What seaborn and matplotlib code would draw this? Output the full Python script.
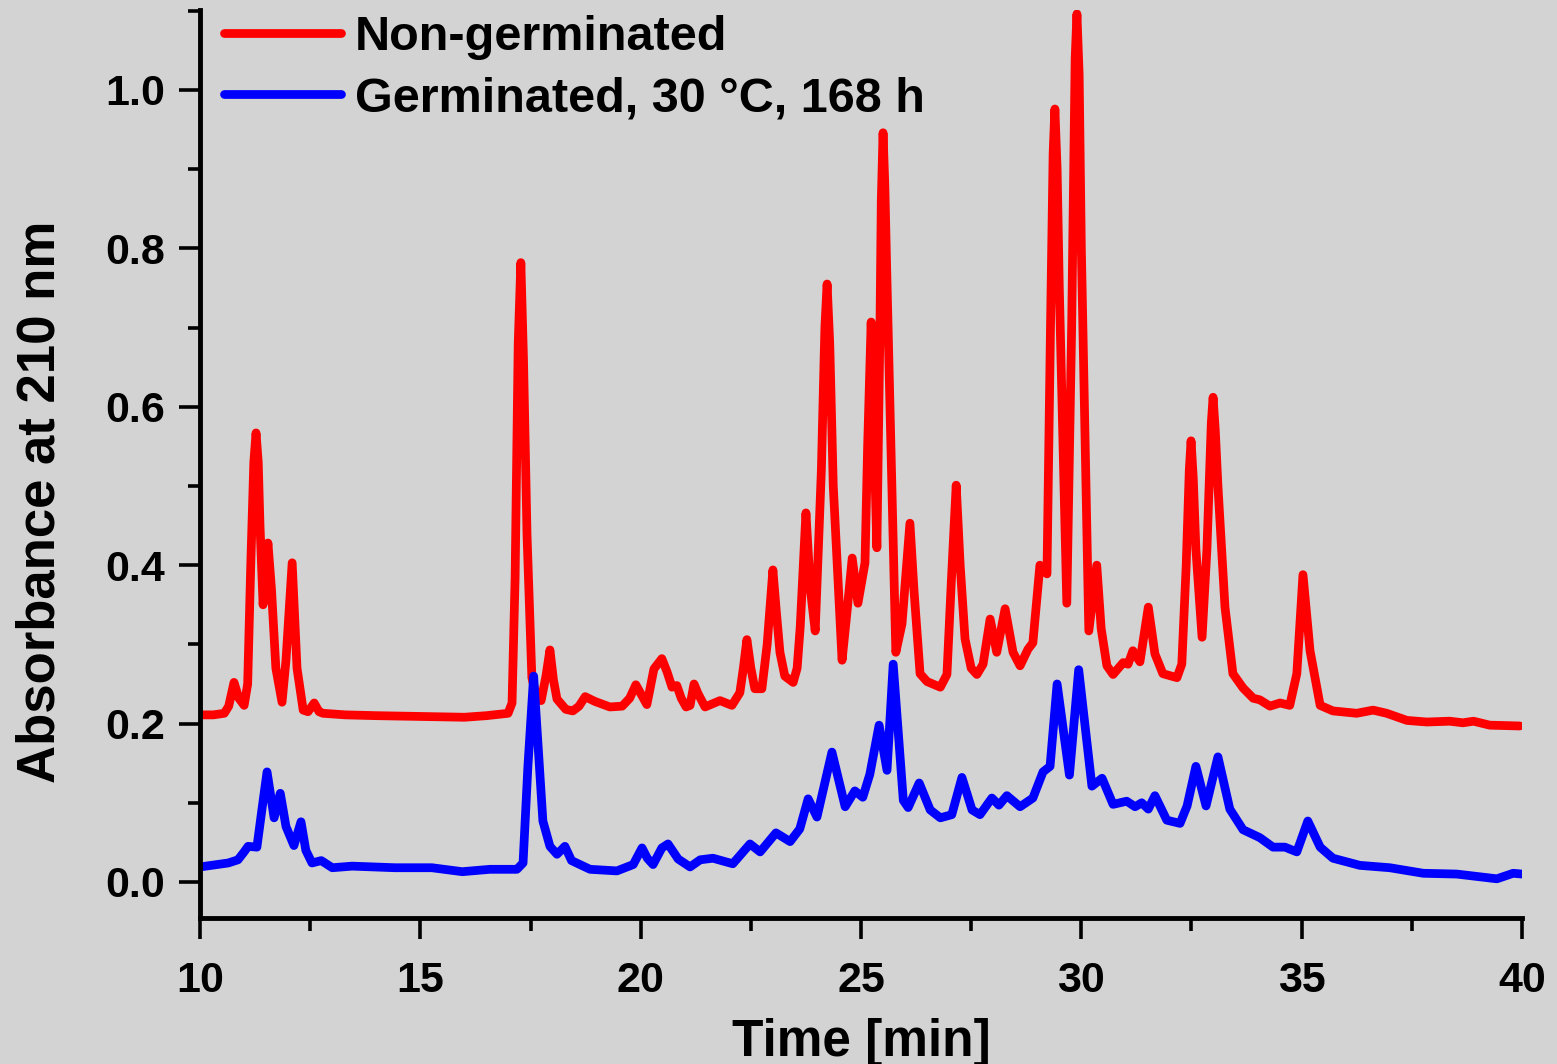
import numpy as np
import pandas as pd
import matplotlib
matplotlib.use("Agg")
import matplotlib.pyplot as plt
from matplotlib.ticker import MultipleLocator, FormatStrFormatter
import seaborn as sns

# ---------------- data ----------------
series_labels = ["Non-germinated", "Germinated, 30 °C, 168 h"]
series_colors = ["#ff0000", "#0000ff"]

red_time = [10.0, 10.3, 10.55, 10.65, 10.77, 10.88, 11.0, 11.08, 11.15, 11.22, 11.27, 11.32, 11.36, 11.43,
            11.54, 11.62, 11.72, 11.86, 11.95, 12.09, 12.2, 12.34, 12.45, 12.59, 12.7, 12.79,
            13.3, 14.0, 15.0, 16.0, 16.5, 16.99, 17.08, 17.15, 17.22, 17.28, 17.34, 17.42, 17.53, 17.64,
            17.74, 17.85, 17.94, 18.02, 18.1, 18.3, 18.46, 18.6, 18.74, 18.96, 19.3, 19.58,
            19.75, 19.89, 20.0, 20.14, 20.3, 20.48, 20.6, 20.71, 20.82, 20.92, 21.03, 21.12,
            21.21, 21.3, 21.46, 21.8, 22.07, 22.25, 22.33, 22.41, 22.5, 22.59, 22.75, 22.87,
            23.0, 23.08, 23.16, 23.27, 23.46, 23.55, 23.62, 23.75, 23.85, 23.96, 24.1, 24.18, 24.23,
            24.29, 24.37, 24.57, 24.68, 24.8, 24.93, 25.09, 25.15, 25.23, 25.3, 25.36, 25.43, 25.46, 25.5,
            25.54, 25.58, 25.66, 25.79, 25.93, 26.11, 26.2, 26.34, 26.5, 26.8, 26.95, 27.05, 27.16,
            27.25, 27.36, 27.5, 27.63, 27.77, 27.93, 28.08, 28.27, 28.45, 28.61, 28.79, 28.9,
            29.06, 29.22, 29.3, 29.36, 29.4, 29.45, 29.5, 29.67, 29.78, 29.86, 29.9, 29.95, 30.0, 30.17,
            30.35, 30.45, 30.58, 30.72, 30.95, 31.06, 31.17, 31.33, 31.52, 31.67, 31.85, 32.17, 32.28,
            32.38, 32.45, 32.49, 32.54, 32.6, 32.74, 32.85, 32.95, 32.99, 33.04, 33.1, 33.26, 33.44, 33.67,
            33.9, 34.05, 34.28, 34.51, 34.73, 34.89, 35.03, 35.19, 35.42, 35.71, 36.25, 36.62, 36.93,
            37.39, 37.84, 38.36, 38.66, 38.9, 39.27, 39.95]
red_abs = [0.211, 0.211, 0.213, 0.222, 0.252, 0.232, 0.223, 0.25, 0.40, 0.53, 0.567, 0.53, 0.45, 0.35,
           0.428, 0.37, 0.27, 0.227, 0.28, 0.403, 0.27, 0.217, 0.215, 0.226, 0.215, 0.213,
           0.211, 0.210, 0.209, 0.208, 0.210, 0.213, 0.226, 0.385, 0.68, 0.782, 0.66, 0.438, 0.258, 0.232,
           0.229, 0.26, 0.293, 0.255, 0.231, 0.218, 0.216, 0.222, 0.234, 0.228, 0.221, 0.222,
           0.232, 0.249, 0.238, 0.224, 0.269, 0.282, 0.265, 0.246, 0.248, 0.232, 0.221, 0.223,
           0.25, 0.238, 0.221, 0.229, 0.223, 0.239, 0.27, 0.306, 0.27, 0.244, 0.244, 0.30,
           0.394, 0.34, 0.29, 0.26, 0.252, 0.27, 0.322, 0.466, 0.37, 0.317, 0.52, 0.70, 0.755,
           0.68, 0.50, 0.28, 0.34, 0.409, 0.352, 0.403, 0.55, 0.707, 0.55, 0.422, 0.70, 0.86, 0.946,
           0.88, 0.78, 0.593, 0.29, 0.326, 0.453, 0.37, 0.263, 0.253, 0.246, 0.262, 0.38, 0.501,
           0.40, 0.307, 0.27, 0.262, 0.275, 0.332, 0.29, 0.345, 0.29, 0.273, 0.294, 0.302,
           0.40, 0.389, 0.70, 0.92, 0.976, 0.90, 0.75, 0.352, 0.70, 1.04, 1.096, 1.02, 0.80, 0.317,
           0.40, 0.32, 0.273, 0.262, 0.277, 0.275, 0.292, 0.278, 0.347, 0.288, 0.263, 0.258, 0.275,
           0.40, 0.52, 0.557, 0.51, 0.42, 0.309, 0.42, 0.58, 0.612, 0.57, 0.50, 0.347, 0.263, 0.245,
           0.232, 0.23, 0.222, 0.226, 0.223, 0.263, 0.388, 0.292, 0.223, 0.216, 0.213, 0.217, 0.213,
           0.204, 0.202, 0.203, 0.201, 0.203, 0.198, 0.197]

blue_time = [10.0, 10.64, 10.86, 11.0, 11.09, 11.29, 11.4, 11.52, 11.68, 11.82, 11.95, 12.13,
             12.29, 12.4, 12.54, 12.75, 13.0, 13.45, 14.42, 15.26, 15.95, 16.58, 17.19, 17.33,
             17.44, 17.57, 17.67, 17.78, 17.94, 18.1, 18.28, 18.43, 18.85, 19.46, 19.83, 20.03,
             20.15, 20.28, 20.48, 20.62, 20.85, 21.12, 21.35, 21.64, 22.09, 22.48, 22.71, 23.07,
             23.39, 23.61, 23.8, 24.0, 24.34, 24.64, 24.86, 25.04, 25.2, 25.41, 25.59, 25.73,
             25.96, 26.07, 26.32, 26.57, 26.8, 27.06, 27.29, 27.52, 27.7, 27.97, 28.13, 28.31,
             28.61, 28.9, 29.13, 29.29, 29.45, 29.73, 29.94, 30.24, 30.47, 30.72, 31.03, 31.22,
             31.37, 31.52, 31.67, 31.94, 32.24, 32.4, 32.6, 32.83, 33.1, 33.37, 33.67, 34.05,
             34.35, 34.62, 34.89, 35.14, 35.42, 35.71, 36.32, 37.0, 37.76, 38.52, 39.43, 39.8,
             40.0]
blue_abs = [0.019, 0.024, 0.028, 0.038, 0.045, 0.044, 0.09, 0.139, 0.081, 0.112, 0.07, 0.046,
            0.076, 0.04, 0.024, 0.027, 0.018, 0.02, 0.018, 0.018, 0.013, 0.016, 0.016, 0.024,
            0.146, 0.26, 0.173, 0.077, 0.045, 0.035, 0.045, 0.027, 0.016, 0.014, 0.022, 0.043,
            0.03, 0.022, 0.043, 0.048, 0.029, 0.019, 0.028, 0.03, 0.023, 0.048, 0.038, 0.062,
            0.051, 0.067, 0.105, 0.082, 0.164, 0.095, 0.115, 0.107, 0.136, 0.198, 0.141, 0.275,
            0.103, 0.094, 0.125, 0.091, 0.081, 0.085, 0.132, 0.091, 0.085, 0.106, 0.097, 0.109,
            0.095, 0.106, 0.139, 0.146, 0.25, 0.135, 0.268, 0.121, 0.131, 0.098, 0.102, 0.095,
            0.1, 0.092, 0.109, 0.078, 0.074, 0.096, 0.146, 0.096, 0.158, 0.092, 0.066, 0.056,
            0.044, 0.044, 0.038, 0.077, 0.044, 0.03, 0.021, 0.018, 0.011, 0.01, 0.004, 0.011,
            0.01]

x_ticks = [10, 15, 20, 25, 30, 35, 40]
y_ticks = [0.0, 0.2, 0.4, 0.6, 0.8, 1.0]

df = pd.concat([
    pd.DataFrame({"time": red_time, "absorbance": red_abs, "sample": series_labels[0]}),
    pd.DataFrame({"time": blue_time, "absorbance": blue_abs, "sample": series_labels[1]}),
], ignore_index=True)

# ---------------- styling ----------------
sns.set_theme(style="ticks")
plt.rcParams["font.family"] = ["Liberation Sans", "DejaVu Sans"]
plt.rcParams.update({"text.color": "black", "axes.labelcolor": "black",
                     "xtick.color": "black", "ytick.color": "black",
                     "axes.edgecolor": "black"})
bg = "#d3d3d3"

fig = plt.figure(figsize=(15.57, 10.64), dpi=100, facecolor=bg)
ax = fig.add_axes([0.1285, 0.1372, 0.849, 0.8534])
ax.set_facecolor(bg)

sns.lineplot(data=df, x="time", y="absorbance", hue="sample", hue_order=series_labels,
             palette=series_colors, estimator=None, sort=False, linewidth=6.3,
             legend=False, ax=ax, solid_joinstyle="round", solid_capstyle="round")

ax.set_xlim(10, 40)
ax.set_ylim(-0.0455, 1.101)
ax.set_xticks(x_ticks)
ax.set_yticks(y_ticks)
ax.xaxis.set_minor_locator(MultipleLocator(2.5))
ax.yaxis.set_minor_locator(MultipleLocator(0.1))
ax.yaxis.set_major_formatter(FormatStrFormatter("%.1f"))

for s in ["top", "right"]:
    ax.spines[s].set_visible(False)
for s in ["left", "bottom"]:
    ax.spines[s].set_linewidth(3.5)
    ax.spines[s].set_color("black")

ax.tick_params(which="major", direction="out", length=15, width=2.6, color="black")
ax.tick_params(which="minor", direction="out", length=9, width=2.6, color="black")
ax.tick_params(axis="x", which="major", pad=16, labelsize=31, labelcolor="black")
ax.tick_params(axis="y", which="major", pad=10, labelsize=31, labelcolor="black")
for lab in ax.get_xticklabels() + ax.get_yticklabels():
    lab.set_fontweight("bold")

ax.set_xlabel("Time [min]", fontsize=37, fontweight="bold", labelpad=12, color="black")
ax.set_ylabel("Absorbance at 210 nm", fontsize=38, fontweight="bold", color="black")
ax.yaxis.set_label_coords(-0.102, 0.458)

leg = ax.legend(handles=ax.lines[:2], labels=series_labels, loc="upper left",
                bbox_to_anchor=(0.018, 0.994), frameon=False,
                prop={"size": 35, "weight": "bold"}, handlelength=2.4, handletextpad=0.3,
                labelspacing=0.32, borderpad=0, borderaxespad=0)
for t in leg.get_texts():
    t.set_color("black")

fig.savefig("out.png", dpi=100, facecolor=bg)
